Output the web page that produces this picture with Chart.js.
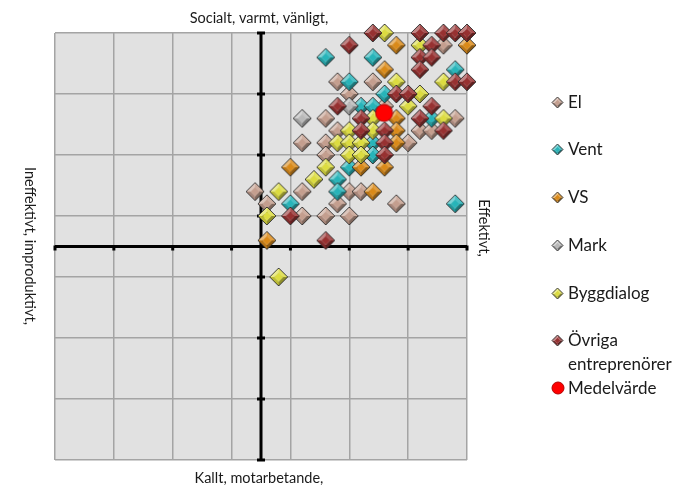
<!DOCTYPE html>
<html>
<head>
<meta charset="utf-8">
<script src="https://cdn.jsdelivr.net/npm/chart.js@4.4.0/dist/chart.umd.min.js"></script>
<style>
  html, body { margin: 0; padding: 0; background: #fff; }
  #wrap { position: relative; width: 682px; height: 489px; font-family: Lato, "Open Sans", sans-serif; }
  #chart { position: absolute; left: 0; top: 0; }
  .leg { position: absolute; left: 551px; height: 24px; font-size: 17px; line-height: 24px; color: #1a1a1a; }
  .leg canvas { position: absolute; left: 0; top: 6px; }
  .leg span { position: absolute; left: 17px; top: 0; white-space: nowrap; }
</style>
</head>
<body>
<div id="wrap">
  <canvas id="chart" width="682" height="489"></canvas>
  <div id="legend"></div>
</div>
<script>
// series, drawn in this order (El at the bottom, Medelvärde on top)
const seriesNames = ["El", "Vent", "VS", "Mark", "Byggdialog", "Övriga\nentreprenörer", "Medelvärde"];
const seriesColors = ["#C49E8E", "#27B4B9", "#DA8A19", "#B9B9B9", "#DCDC40", "#973131", "#FF0000"];

// [effektivitet, socialt klimat]
const elPoints = [
  [3.1, 3.3], [1.3, 2.7], [1.9, 2.7], [1.5, 2.5], [2.1, 2.3], [1.1, 2.1], [3.3, 2.1], [1.3, 1.9],
  [2.7, 1.9], [2.9, 1.9], [0.7, 1.7], [1.1, 1.7], [2.5, 1.7], [1.1, 1.5], [-0.1, 0.9], [0.7, 0.9],
  [1.5, 0.9], [1.7, 0.9], [0.1, 0.7], [1.3, 0.7], [2.3, 0.7], [0.7, 0.5], [1.1, 0.5], [1.5, 0.5]
];
const ventPoints = [
  [1.1, 3.1], [1.9, 3.1], [3.3, 2.9], [1.5, 2.7], [2.1, 2.5], [1.7, 2.3], [1.9, 2.3], [2.9, 2.1],
  [1.9, 1.7], [1.9, 1.5], [1.5, 1.3], [1.3, 1.1], [1.3, 0.9], [0.5, 0.7], [3.3, 0.7]
];
const vsPoints = [
  [2.3, 3.3], [3.5, 3.3], [2.1, 2.9], [2.3, 2.1], [2.3, 1.9], [2.3, 1.7], [0.5, 1.3], [1.7, 1.3],
  [2.1, 1.3], [1.9, 0.9], [0.1, 0.1]
];
const markPoints = [[1.5, 2.3], [0.7, 2.1]];
const byggPoints = [
  [2.1, 3.5], [2.7, 3.3], [2.3, 2.7], [3.1, 2.7], [2.7, 2.5], [2.5, 2.3], [1.9, 2.1], [3.1, 2.1],
  [1.5, 1.9], [1.9, 1.9], [1.3, 1.7], [1.5, 1.7], [1.7, 1.7], [1.5, 1.5], [1.7, 1.5], [1.1, 1.3],
  [0.9, 1.1], [0.3, 0.9], [0.1, 0.5], [0.3, -0.5]
];
const ovrigaPoints = [
  [1.9, 3.5], [2.7, 3.5], [3.1, 3.5], [3.3, 3.5], [3.5, 3.5], [1.5, 3.3], [2.9, 3.3], [2.7, 3.1],
  [2.9, 3.1], [2.7, 2.9], [3.3, 2.7], [3.5, 2.7], [2.3, 2.5], [2.5, 2.5], [1.3, 2.3], [2.9, 2.3],
  [1.7, 2.1], [2.7, 2.1], [1.7, 1.9], [2.1, 1.9], [3.1, 1.9], [2.1, 1.7], [2.1, 1.5], [0.5, 0.5],
  [1.1, 0.1]
];
const meanPoints = [[2.09, 2.19]];

const axisMin = -3.5;
const axisMax = 3.5;
const axisStep = 1;

const titleTop = "Socialt, varmt, vänligt,";
const titleBottom = "Kallt, motarbetande,";
const titleLeft = "Ineffektivt, improduktivt,";
const titleRight = "Effektivt,";

const allPoints = [elPoints, ventPoints, vsPoints, markPoints, byggPoints, ovrigaPoints, meanPoints];

// lighten (f > 0) or darken (f < 0) a hex colour
function shade(hex, f) {
  const n = parseInt(hex.slice(1), 16);
  const mix = f > 0 ? 255 : 0, k = Math.abs(f);
  const ch = [n >> 16, (n >> 8) & 255, n & 255].map(v => Math.round(v + (mix - v) * k));
  return "rgb(" + ch.join(",") + ")";
}

// bevelled diamond like the Excel markers
function makeDiamond(color, half) {
  const size = Math.ceil(half * 2 + 2);
  const c = document.createElement("canvas");
  c.width = size;
  c.height = size;
  const g = c.getContext("2d");
  const m = size / 2;
  const inner = half * 0.5;
  const outer = [[m, m - half], [m + half, m], [m, m + half], [m - half, m]];
  const inn = [[m, m - inner], [m + inner, m], [m, m + inner], [m - inner, m]];
  // facets: top-right, bottom-right, bottom-left, top-left
  const facets = [shade(color, 0.15), shade(color, -0.35), shade(color, -0.15), shade(color, 0.4)];
  for (let i = 0; i < 4; i++) {
    const j = (i + 1) % 4;
    g.beginPath();
    g.moveTo(outer[i][0], outer[i][1]);
    g.lineTo(outer[j][0], outer[j][1]);
    g.lineTo(inn[j][0], inn[j][1]);
    g.lineTo(inn[i][0], inn[i][1]);
    g.closePath();
    g.fillStyle = facets[i];
    g.fill();
  }
  g.beginPath();
  inn.forEach((p, i) => (i ? g.lineTo(p[0], p[1]) : g.moveTo(p[0], p[1])));
  g.closePath();
  g.fillStyle = color;
  g.fill();
  g.beginPath();
  outer.forEach((p, i) => (i ? g.lineTo(p[0], p[1]) : g.moveTo(p[0], p[1])));
  g.closePath();
  g.strokeStyle = "rgba(45,45,45,0.9)";
  g.lineWidth = 1;
  g.stroke();
  return c;
}

function makeDot(color, r) {
  const size = Math.ceil(r * 2 + 2);
  const c = document.createElement("canvas");
  c.width = size;
  c.height = size;
  const g = c.getContext("2d");
  g.beginPath();
  g.arc(size / 2, size / 2, r, 0, Math.PI * 2);
  g.fillStyle = color;
  g.fill();
  g.strokeStyle = "#B00000";
  g.lineWidth = 1;
  g.stroke();
  return c;
}

const datasets = allPoints.map((pts, i) => {
  const isMean = i === allPoints.length - 1;
  return {
    label: seriesNames[i].replace("\n", " "),
    data: pts.map(p => ({ x: p[0], y: p[1] })),
    pointStyle: isMean ? makeDot(seriesColors[i], 8.5) : makeDiamond(seriesColors[i], 9),
    pointRadius: 8,
    backgroundColor: seriesColors[i],
    clip: false,
    order: allPoints.length - 1 - i,
  };
});

const quadrantPlugin = {
  id: "quadrant",
  beforeDraw(chart) {
    const { ctx, chartArea: a } = chart;
    ctx.save();
    ctx.fillStyle = "#E1E1E1";
    ctx.fillRect(a.left, a.top, a.width, a.height);
    ctx.restore();
  },
  beforeDatasetsDraw(chart) {
    const { ctx, chartArea: a, scales: { x, y } } = chart;
    const x0 = x.getPixelForValue(0);
    const y0 = y.getPixelForValue(0);
    ctx.save();
    ctx.strokeStyle = "#000";
    ctx.lineWidth = 3;
    ctx.beginPath();
    ctx.moveTo(a.left, y0);
    ctx.lineTo(a.right, y0);
    ctx.moveTo(x0, a.top);
    ctx.lineTo(x0, a.bottom);
    x.ticks.forEach(t => {
      const px = x.getPixelForValue(t.value);
      ctx.moveTo(px, y0 - 1);
      ctx.lineTo(px, y0 + 4);
    });
    y.ticks.forEach(t => {
      const py = y.getPixelForValue(t.value);
      ctx.moveTo(x0 - 4, py);
      ctx.lineTo(x0 + 4, py);
    });
    ctx.stroke();
    ctx.restore();
  },
  afterDraw(chart) {
    const { ctx, chartArea: a } = chart;
    const cx = (a.left + a.right) / 2 - 2;
    const font = "14.5px Lato, 'Open Sans', sans-serif";
    ctx.save();
    ctx.fillStyle = "#1a1a1a";
    ctx.font = font;
    ctx.textAlign = "center";
    ctx.textBaseline = "middle";
    ctx.fillText(titleTop, cx, 18);
    ctx.fillText(titleBottom, cx, 478);
    ctx.translate(30, 246);
    ctx.rotate(Math.PI / 2);
    ctx.fillText(titleLeft, 0, 0);
    ctx.restore();
    ctx.save();
    ctx.fillStyle = "#1a1a1a";
    ctx.font = font;
    ctx.textAlign = "center";
    ctx.textBaseline = "middle";
    ctx.translate(484, 228);
    ctx.rotate(Math.PI / 2);
    ctx.fillText(titleRight, 0, 0);
    ctx.restore();
  },
};

const gridOpts = { color: "#A4A4A4", lineWidth: 1.5, drawTicks: false };

new Chart(document.getElementById("chart").getContext("2d"), {
  type: "scatter",
  data: { datasets },
  options: {
    responsive: false,
    animation: false,
    layout: { padding: { left: 55, right: 215, top: 33, bottom: 29 } },
    plugins: { legend: { display: false }, tooltip: { enabled: false } },
    scales: {
      x: {
        type: "linear",
        min: axisMin,
        max: axisMax,
        ticks: { stepSize: axisStep, display: false },
        grid: gridOpts,
        border: { display: false },
      },
      y: {
        type: "linear",
        min: axisMin,
        max: axisMax,
        ticks: { stepSize: axisStep, display: false },
        grid: gridOpts,
        border: { display: false },
      },
    },
  },
  plugins: [quadrantPlugin],
});

// legend on the right
const legend = document.getElementById("legend");
seriesNames.forEach((name, i) => {
  const item = document.createElement("div");
  item.className = "leg";
  item.style.top = (89.6 + i * 47.75) + "px";
  const isMean = i === seriesNames.length - 1;
  const marker = isMean ? makeDot(seriesColors[i], 6) : makeDiamond(seriesColors[i], 5.5);
  if (isMean) marker.style.top = "5px";
  item.appendChild(marker);
  const span = document.createElement("span");
  span.innerHTML = name.replace("\n", "<br>");
  item.appendChild(span);
  legend.appendChild(item);
});
</script>
</body>
</html>
